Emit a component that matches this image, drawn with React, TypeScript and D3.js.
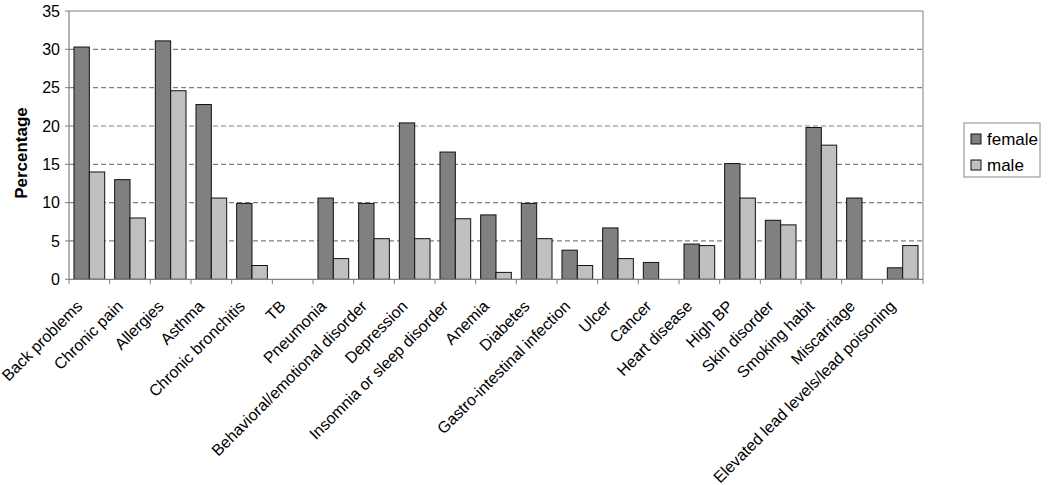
import React from "react";
import * as d3 from "d3";

const categories = [
  "Back problems", "Chronic pain", "Allergies", "Asthma", "Chronic bronchitis", "TB",
  "Pneumonia", "Behavioral/emotional disorder", "Depression", "Insomnia or sleep disorder",
  "Anemia", "Diabetes", "Gastro-intestinal infection", "Ulcer", "Cancer", "Heart disease",
  "High BP", "Skin disorder", "Smoking habit", "Miscarriage", "Elevated lead levels/lead poisoning",
];
const female = [30.3, 13.0, 31.1, 22.8, 9.9, 0, 10.6, 9.9, 20.4, 16.6, 8.4, 9.9, 3.8, 6.7, 2.2, 4.6, 15.1, 7.7, 19.8, 10.6, 1.5];
const male = [14.0, 8.0, 24.6, 10.6, 1.8, 0, 2.7, 5.3, 5.3, 7.9, 0.9, 5.3, 1.8, 2.7, 0, 4.4, 10.6, 7.1, 17.5, 0, 4.4];
const seriesNames = ["female", "male"];
const yTicks = [0, 5, 10, 15, 20, 25, 30, 35];

const colors = ["#808080", "#c0c0c0"];
const FONT = "'Liberation Sans', Arial, sans-serif";

export default function App() {
  const left = 69, right = 923, top = 11, bottom = 279.3;
  const x = d3.scaleBand<string>().domain(categories).range([left, right]).paddingInner(0).paddingOuter(0);
  const y = d3.scaleLinear().domain([0, 35]).range([bottom, top]);
  const bw = x.bandwidth();
  const inner = d3.scaleBand<string>().domain(seriesNames).range([0, bw]).paddingInner(0).paddingOuter(0.325);
  const data = [female, male];

  return (
    <svg width={1050} height={485} style={{ position: "absolute", left: 0, top: 0, background: "#fff" }} fontFamily={FONT}>
      {/* gridlines */}
      {yTicks.filter((t) => t > 0 && t < 35).map((t) => (
        <line key={t} x1={left} x2={right} y1={y(t)} y2={y(t)} stroke="#808080" strokeWidth={1.2} strokeDasharray="5,3" />
      ))}
      {/* plot border top/right */}
      <line x1={left} x2={right} y1={y(35)} y2={y(35)} stroke="#a8a8a8" strokeWidth={1.5} />
      <line x1={right} x2={right} y1={y(35)} y2={bottom} stroke="#a8a8a8" strokeWidth={1.5} />
      {/* bars */}
      {categories.map((c, i) =>
        seriesNames.map((s, j) =>
          data[j][i] > 0 ? (
            <rect key={c + s} x={(x(c) as number) + (inner(s) as number)} y={y(data[j][i])}
              width={inner.bandwidth()} height={bottom - y(data[j][i])}
              fill={colors[j]} stroke="#111" strokeWidth={1} />
          ) : null
        )
      )}
      {/* y axis */}
      <line x1={left} x2={left} y1={y(35)} y2={bottom} stroke="#808080" strokeWidth={1.2} />
      {yTicks.map((t) => (
        <g key={t}>
          <line x1={left - 4} x2={left} y1={y(t)} y2={y(t)} stroke="#808080" />
          <text x={left - 9} y={y(t)} dy="0.35em" textAnchor="end" fontSize={16} fill="#000">{t}</text>
        </g>
      ))}
      {/* x axis */}
      <line x1={left} x2={right} y1={bottom} y2={bottom} stroke="#808080" strokeWidth={1.2} />
      {categories.map((c) => (
        <line key={c + "t"} x1={x(c) as number} x2={x(c) as number} y1={bottom} y2={bottom + 5} stroke="#808080" />
      ))}
      <line x1={right} x2={right} y1={bottom} y2={bottom + 5} stroke="#808080" />
      {categories.map((c) => {
        const cx = (x(c) as number) + bw / 2;
        return (
          <text key={c + "l"} transform={`translate(${cx - 10},${bottom + 24}) rotate(-45)`} textAnchor="end"
            dy="0.35em" fontSize={16} fill="#000">{c}</text>
        );
      })}
      {/* y label */}
      <text transform={`translate(27,153) rotate(-90)`} textAnchor="middle" fontSize={17}
        fontWeight="bold" fill="#000">Percentage</text>
      {/* legend */}
      <rect x={964} y={123} width={76} height={54} fill="#fff" stroke="#888" strokeWidth={1} />
      {seriesNames.map((s, j) => (
        <g key={s}>
          <rect x={971} y={134 + j * 26} width={10} height={10} fill={colors[j]} stroke="#111" />
          <text x={987} y={139 + j * 26} dy="0.35em" fontSize={17} fill="#000">{s}</text>
        </g>
      ))}
    </svg>
  );
}
